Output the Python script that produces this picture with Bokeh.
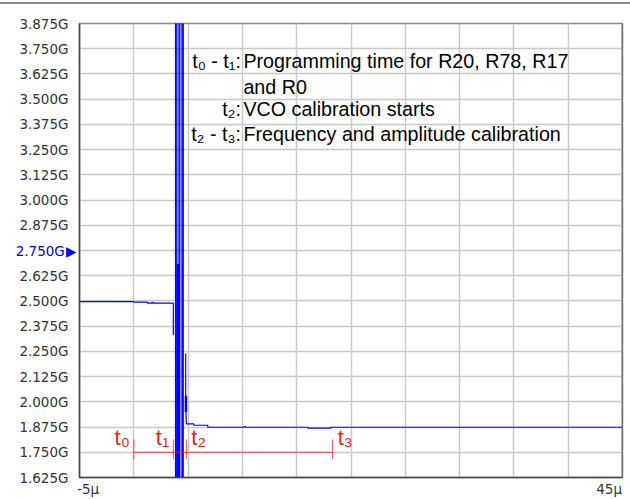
from bokeh.plotting import figure
from bokeh.models import FixedTicker, Label, Span, Range1d, LinearAxis
from bokeh.embed import file_html
from bokeh.resources import INLINE

# ---------------- data (time in microseconds, frequency in GHz) ----------------
x_ticks = [-5, 0, 5, 10, 15, 20, 25, 30, 35, 40, 45]
x_end_labels = ["-5μ", "45μ"]
y_ticks = [1.625, 1.750, 1.875, 2.000, 2.125, 2.250, 2.375, 2.500, 2.625,
           2.750, 2.875, 3.000, 3.125, 3.250, 3.375, 3.500, 3.625, 3.750, 3.875]
y_tick_labels = ["1.625G", "1.750G", "1.875G", "2.000G", "2.125G", "2.250G",
                 "2.375G", "2.500G", "2.625G", "2.750G", "2.875G", "3.000G",
                 "3.125G", "3.250G", "3.375G", "3.500G", "3.625G", "3.750G",
                 "3.875G"]
marked_tick = 2.750

# trace before the burst
pre_t = [-5.0, 0.0, 0.0, 1.27, 1.27, 1.66, 1.66, 1.76, 1.76, 3.64, 3.64]
pre_f = [2.497, 2.497, 2.494, 2.494, 2.489, 2.489, 2.493, 2.493, 2.489, 2.489, 2.33]

# burst (switching) region
burst_t = [3.84, 3.90, 4.18, 4.46, 4.55]
burst_hi = [4.2, 4.2, 4.2, 4.2, 4.2]
burst_lo = [1.5, 1.5, 1.5, 1.5, 1.5]
band_left = [3.80]
band_right = [4.58]
core_left = [3.95]
core_right = [4.22]
core_top = [2.683]
core_bottom = [1.5]

# trace after the burst
post_t = [4.78, 4.78, 4.80, 4.80, 4.84, 5.52, 5.52, 6.81, 6.81, 10.15, 10.15,
          10.30, 10.30, 16.03, 16.03, 18.15, 18.15, 45.0]
post_f = [2.24, 2.03, 2.03, 1.95, 1.891, 1.891, 1.884, 1.884, 1.874, 1.874, 1.877,
          1.877, 1.874, 1.874, 1.870, 1.870, 1.874, 1.874]
spur_t = [4.80]
spur_hi = [2.03]
spur_lo = [1.95]

# timing markers
marker_t = [0.0, 3.64, 4.84, 18.31]
marker_names = ["t₀", "t₁", "t₂", "t₃"]
marker_level = 1.75
tick_lo = 1.715
tick_hi = 1.813

# legend notes
notes_lhs = ["t₀ - t₁:", "", "t₂:", "t₂ - t₃:"]
notes_rhs = ["Programming time for R20, R78, R17", "and R0",
             "VCO calibration starts", "Frequency and amplitude calibration"]
notes_f = [3.690, 3.562, 3.450, 3.326]
notes_t = 10.0

BLUE = "#0000ff"
RED = "#ee2222"
LABEL_FONT = "DejaVu Sans"
LABEL_SIZE = "13.5px"
TEXT_FONT = "Liberation Sans"

p = figure(width=630, height=495, output_backend="svg", toolbar_location=None,
           x_range=Range1d(-5, 45), y_range=Range1d(1.625, 3.875),
           min_border_left=79, min_border_right=8, min_border_top=19,
           min_border_bottom=22)
p.styles = {"margin-top": "2px", "border-top": "2px solid #8c8c8c"}

p.background_fill_color = "white"
p.border_fill_color = "white"
p.outline_line_color = "#8a8a8a"
p.outline_line_width = 1.5

# grid
p.xgrid.ticker = FixedTicker(ticks=x_ticks)
p.ygrid.ticker = FixedTicker(ticks=y_ticks)
p.xgrid.grid_line_color = "#c8c8c8"
p.ygrid.grid_line_color = "#c8c8c8"
p.xgrid.grid_line_width = 1.5
p.ygrid.grid_line_width = 1.5

# y axis
p.yaxis.ticker = FixedTicker(ticks=y_ticks)
overrides = {}
for v, lab in zip(y_ticks, y_tick_labels):
    overrides[v] = "" if v == marked_tick else lab
p.yaxis.major_label_overrides = overrides
p.yaxis.major_tick_in = 0
p.yaxis.major_tick_out = 0
p.yaxis.minor_tick_in = 0
p.yaxis.minor_tick_out = 0
p.yaxis.major_label_standoff = 11
p.yaxis.major_label_text_font = LABEL_FONT
p.yaxis.major_label_text_font_size = LABEL_SIZE
p.yaxis.major_label_text_color = "#333333"
p.yaxis.axis_line_color = "#444444"
p.yaxis.axis_line_width = 1.5

# highlighted (blue) y tick label with its marker, drawn by a second axis
blue_axis = LinearAxis(ticker=FixedTicker(ticks=[marked_tick]),
                       major_label_overrides={marked_tick: y_tick_labels[y_ticks.index(marked_tick)] + "\u200a▶"},
                       major_label_standoff=-60, major_tick_in=0, major_tick_out=0,
                       minor_tick_in=0, minor_tick_out=0, axis_line_color=None,
                       major_label_text_font=LABEL_FONT,
                       major_label_text_font_size=LABEL_SIZE,
                       major_label_text_color=BLUE)
p.add_layout(blue_axis, "left")

# x axis: only end labels, placed just inside the ends
x_label_pos = [-4.2, 43.77]
p.xaxis.ticker = FixedTicker(ticks=x_label_pos)
p.xaxis.major_label_overrides = dict(zip(x_label_pos, x_end_labels))
p.xaxis.major_label_text_font = LABEL_FONT
p.xaxis.major_label_text_font_size = LABEL_SIZE
p.xaxis.major_label_text_color = "#333333"
p.xaxis.major_label_standoff = 3
p.xaxis.major_tick_in = 0
p.xaxis.major_tick_out = 0
p.xaxis.minor_tick_in = 0
p.xaxis.minor_tick_out = 0
p.xaxis.axis_line_color = "#444444"
p.xaxis.axis_line_width = 1.5

p.add_layout(Span(location=45, dimension="height", line_color="#444444",
                  line_width=1.5))

# signal
p.quad(left=band_left, right=band_right, top=burst_hi[:1], bottom=burst_lo[:1],
       fill_color=BLUE, fill_alpha=0.45, line_alpha=0)
p.segment(x0=burst_t, y0=burst_lo, x1=burst_t, y1=burst_hi, line_color=BLUE,
          line_width=1.2)
p.quad(left=core_left, right=core_right, top=core_top, bottom=core_bottom,
       fill_color=BLUE, line_alpha=0)
p.line(pre_t, pre_f, line_color=BLUE, line_width=1.2)
p.line(post_t, post_f, line_color=BLUE, line_width=1.2)
p.segment(x0=spur_t, y0=spur_lo, x1=spur_t, y1=spur_hi, line_color=BLUE,
          line_width=2.5)

# timing markers
p.line([marker_t[0], marker_t[-1]], [marker_level, marker_level],
       line_color=RED, line_width=1, line_alpha=0.8)
p.segment(x0=marker_t, y0=[tick_lo] * len(marker_t), x1=marker_t,
          y1=[tick_hi] * len(marker_t), line_color=RED, line_width=1,
          line_alpha=0.8)
for i, (t, name) in enumerate(zip(marker_t, marker_names)):
    left_side = i < 2
    p.add_layout(Label(x=t, y=marker_level, text=name,
                       x_offset=-4 if left_side else 5, y_offset=15,
                       text_align="right" if left_side else "left",
                       text_baseline="alphabetic", text_color=RED,
                       text_font=TEXT_FONT, text_font_size="22px"))

# notes
for lhs, rhs, f in zip(notes_lhs, notes_rhs, notes_f):
    if lhs:
        p.add_layout(Label(x=notes_t, y=f, text=lhs, x_offset=-1.5,
                           text_align="right", text_baseline="alphabetic",
                           text_color="black", text_font=TEXT_FONT,
                           text_font_size="19.7px"))
    p.add_layout(Label(x=notes_t, y=f, text=rhs, x_offset=1,
                       text_align="left", text_baseline="alphabetic",
                       text_color="black", text_font=TEXT_FONT,
                       text_font_size="19.7px"))

open("out.html", "w").write(file_html(p, INLINE))
